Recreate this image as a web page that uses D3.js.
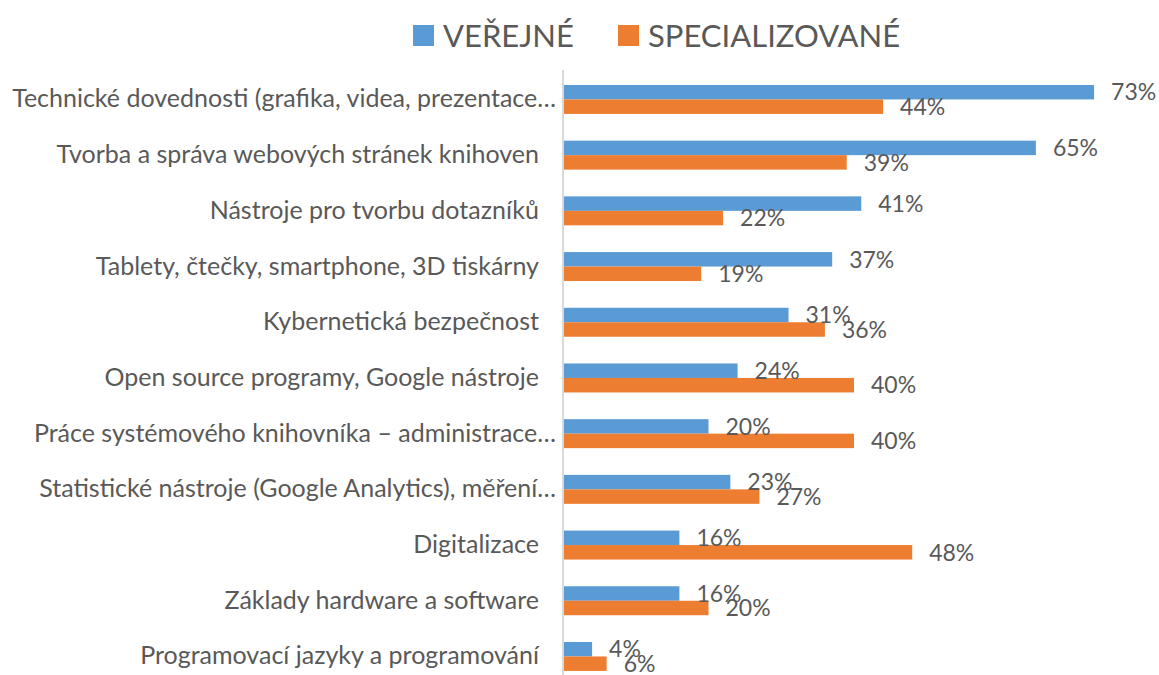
<!DOCTYPE html>
<html>
<head>
<meta charset="utf-8">
<script src="https://cdnjs.cloudflare.com/ajax/libs/d3/7.8.5/d3.min.js"></script>
<style>
  body { margin: 0; background: #fff; }
  text { font-family: Lato, "Open Sans", sans-serif; fill: #595959; }
</style>
</head>
<body>
<svg id="chart"></svg>
<script>
var categories = [
    "Technické dovednosti (grafika, videa, prezentace…",
    "Tvorba a správa webových stránek knihoven",
    "Nástroje pro tvorbu dotazníků",
    "Tablety, čtečky, smartphone, 3D tiskárny",
    "Kybernetická bezpečnost",
    "Open source programy, Google nástroje",
    "Práce systémového knihovníka – administrace…",
    "Statistické nástroje (Google Analytics), měření…",
    "Digitalizace",
    "Základy hardware a software",
    "Programovací jazyky a programování"
]
var seriesNames = ["VEŘEJNÉ", "SPECIALIZOVANÉ"]
var verejne = [73, 65, 41, 37, 31, 24, 20, 23, 16, 16, 4]
var specializovane = [44, 39, 22, 19, 36, 40, 40, 27, 48, 20, 6]
var colors = ["#5B9BD5", "#ED7D31"]

var width = 1159
var height = 675

var svg = d3.select("#chart")
    .attr("width", width)
    .attr("height", height)

// scales
var x = d3.scaleLinear()
    .domain([0, 80])
    .range([563, 1145])

var y = d3.scaleBand()
    .domain(categories)
    .range([71.6, 684.3])
    .paddingInner(0.48)
    .paddingOuter(0.24)

var ySub = d3.scaleBand()
    .domain(seriesNames)
    .range([0, y.bandwidth()])

var rows = categories.map(function(c, i) {
    return { cat: c, values: [verejne[i], specializovane[i]] }
})

// bars
var groups = svg.append("g")
    .selectAll("g")
    .data(rows)
    .enter()
    .append("g")
    .attr("transform", function(d) { return `translate(0,${y(d.cat)})` })

groups.selectAll("rect")
    .data(function(d) { return d.values })
    .enter()
    .append("rect")
    .attr("x", x(0))
    .attr("y", function(d, i) { return ySub(seriesNames[i]) })
    .attr("width", function(d) { return x(d) - x(0) })
    .attr("height", ySub.bandwidth())
    .attr("fill", function(d, i) { return colors[i] })

// value labels
groups.selectAll("text.val")
    .data(function(d) { return d.values })
    .enter()
    .append("text")
    .attr("class", "val")
    .attr("x", function(d) { return x(d) + 17 })
    .attr("y", function(d, i) { return ySub(seriesNames[i]) + ySub.bandwidth() / 2 })
    .attr("dy", "0.36em")
    .style("font-size", "23px")
    .text(function(d) { return d + "%" })

// category axis
var yAxis = d3.axisLeft(y).tickSize(0).tickPadding(22)

var axisG = svg.append("g")
    .attr("transform", `translate(${x(0)},0)`)
    .call(yAxis)

axisG.select(".domain").remove()
axisG.selectAll("text")
    .style("font-size", "25px")
    .style("fill", "#595959")
    .style("font-family", "Lato, 'Open Sans', sans-serif")
    .attr("x", function(d) { return d.endsWith("…") ? -7 : -24 })

// vertical axis line
svg.append("line")
    .attr("x1", x(0))
    .attr("x2", x(0))
    .attr("y1", 70)
    .attr("y2", height)
    .style("stroke", "#D9D9D9")
    .style("stroke-width", 2)

// legend
var legendX = [413, 618]
var legend = svg.append("g")
    .selectAll("g")
    .data(seriesNames)
    .enter()
    .append("g")
    .attr("transform", function(d, i) { return `translate(${legendX[i]},25)` })

legend.append("rect")
    .attr("width", 21)
    .attr("height", 21)
    .attr("fill", function(d, i) { return colors[i] })

legend.append("text")
    .attr("x", 30)
    .attr("y", 22)
    .style("font-size", "31px")
    .text(function(d) { return d })
</script>
</body>
</html>
